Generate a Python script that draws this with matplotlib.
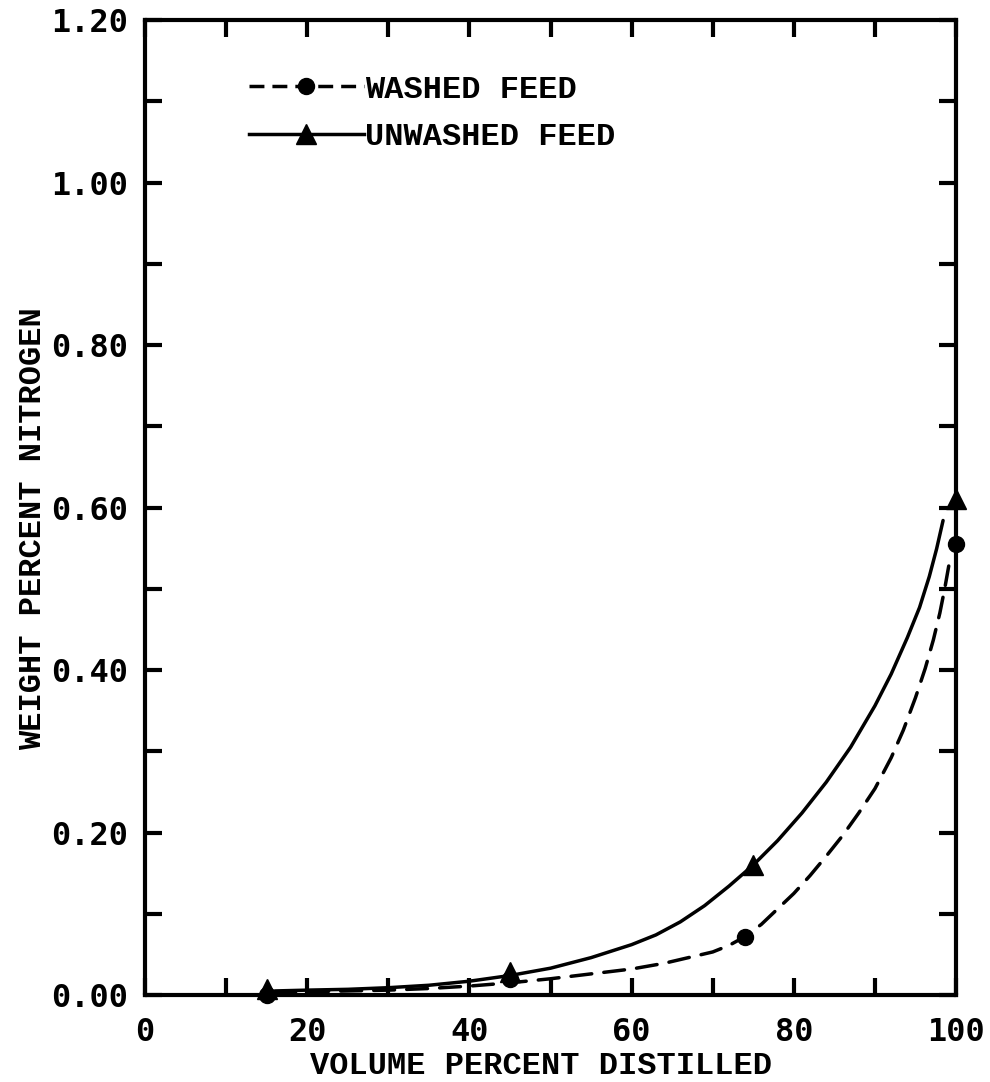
import matplotlib.pyplot as plt
from matplotlib.ticker import MultipleLocator, FormatStrFormatter

# measured points
washed_x = [15, 45, 74, 100]
washed_y = [0.000, 0.020, 0.072, 0.555]
unwashed_x = [15, 45, 75, 100]
unwashed_y = [0.008, 0.028, 0.160, 0.610]

# hand-drawn curves
washed_curve_x = [16, 20, 25, 30, 35, 40, 45, 50, 55, 60, 64, 67, 70, 72, 74, 76, 78,
                  80, 82, 84, 86, 88, 90, 92, 93.5, 95, 96.2, 97.2, 98, 98.6, 99.1]
washed_curve_y = [0.003, 0.004, 0.005, 0.006, 0.008, 0.011, 0.015, 0.020, 0.026, 0.032,
                  0.039, 0.046, 0.053, 0.061, 0.072, 0.087, 0.106, 0.125, 0.147, 0.171,
                  0.196, 0.224, 0.254, 0.292, 0.326, 0.366, 0.402, 0.437, 0.470, 0.500,
                  0.528]
unwashed_curve_x = [16, 20, 25, 30, 35, 40, 45, 50, 55, 60, 63, 66, 69, 72, 75, 78, 81,
                    84, 87, 90, 92, 94, 95.5, 96.7, 97.6, 98.4]
unwashed_curve_y = [0.005, 0.006, 0.007, 0.009, 0.012, 0.017, 0.024, 0.033, 0.046, 0.062,
                    0.074, 0.090, 0.110, 0.134, 0.160, 0.190, 0.224, 0.262, 0.305, 0.356,
                    0.395, 0.440, 0.477, 0.515, 0.549, 0.584]

LABEL_FONT = {"family": "Liberation Mono", "weight": "bold", "size": 23}
TICK_FONT = {"family": "DejaVu Sans Mono", "weight": "bold", "size": 23}

fig = plt.figure(figsize=(9.9, 10.82), dpi=100)
ax = fig.add_axes([0.1465, 0.0804, 0.8192, 0.9011])

ax.plot(washed_curve_x, washed_curve_y, color="black", lw=2.5,
        linestyle=(0, (6, 3.5)), dash_capstyle="round")
ax.plot(unwashed_curve_x, unwashed_curve_y, color="black", lw=2.5,
        solid_capstyle="round")

ax.plot(washed_x, washed_y, "o", color="black", ms=11.5, clip_on=False, zorder=5)
ax.plot(unwashed_x, unwashed_y, "^", color="black", ms=14, clip_on=False, zorder=6)

# legend proxies
ax.plot([], [], color="black", lw=2.5, linestyle=(0, (4.3, 2.3)), marker="o", ms=11.5,
        label="WASHED FEED")
ax.plot([], [], color="black", lw=2.5, marker="^", ms=14, label="UNWASHED FEED")
handles, labels = ax.get_legend_handles_labels()
ax.legend(handles, labels, loc="upper left", bbox_to_anchor=(0.128, 0.944),
          frameon=False, handlelength=3.6, handletextpad=0.05,
          labelspacing=0.55, borderpad=0, borderaxespad=0,
          prop={"family": "Liberation Mono", "weight": "bold", "size": 23})

ax.set_xlim(0, 100)
ax.set_ylim(0, 1.20)
ax.xaxis.set_major_locator(MultipleLocator(20))
ax.xaxis.set_minor_locator(MultipleLocator(10))
ax.yaxis.set_major_locator(MultipleLocator(0.2))
ax.yaxis.set_minor_locator(MultipleLocator(0.1))
ax.yaxis.set_major_formatter(FormatStrFormatter("%.2f"))

for which in ("major", "minor"):
    ax.tick_params(axis="both", which=which, direction="in", length=12, width=3,
                   top=True, right=True, color="black")
ax.tick_params(axis="x", which="major", pad=16)
ax.tick_params(axis="y", which="major", pad=12)
for lab in ax.get_xticklabels() + ax.get_yticklabels():
    lab.set_fontfamily(TICK_FONT["family"])
    lab.set_fontweight(TICK_FONT["weight"])
    lab.set_fontsize(TICK_FONT["size"])

for sp in ax.spines.values():
    sp.set_linewidth(3)

ax.set_xlabel("VOLUME PERCENT DISTILLED", fontdict=LABEL_FONT)
ax.set_ylabel("WEIGHT PERCENT NITROGEN", fontdict=LABEL_FONT)
ax.xaxis.set_label_coords(0.488, -0.057)
ax.yaxis.set_label_coords(-0.12, 0.478)

fig.savefig("out.png", dpi=100, facecolor="white")
